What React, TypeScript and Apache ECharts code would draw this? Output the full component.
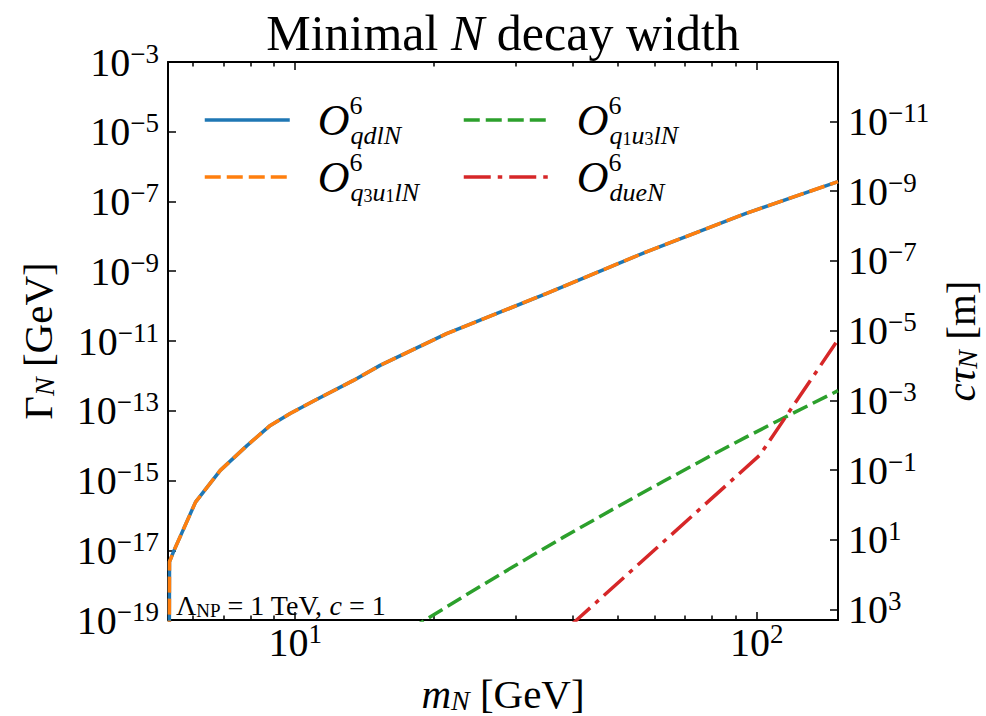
import { useEffect, useRef } from 'react';
import * as echarts from 'echarts';

// hbar*c in GeV*m, converts the width into the decay length c*tau
const HBARC = 1.97327e-16;

const X_MIN = 5.3;
const X_MAX = 150;
const Y_MIN = 1e-19;
const Y_MAX = 1e-3;

// O^6_{qdlN}
const massQdlN = [5.33, 5.34, 5.46, 6.08, 6.88, 7.86, 8.83, 9.75, 10.96, 13.37, 15.27, 21.28, 35.0, 57.5, 94.8, 150];
const widthQdlN = [1e-22, 4.68e-18, 9.77e-18, 2.4e-16, 1.95e-15, 1.0e-14, 3.8e-14, 8.32e-14, 1.91e-13, 7.41e-13, 2.0e-12, 1.62e-11, 2.29e-10, 3.55e-9, 4.57e-8, 3.72e-7];
// O^6_{q3u1lN}
const massQ3u1lN = [5.33, 5.34, 5.46, 6.08, 6.88, 7.86, 8.83, 9.75, 10.96, 13.37, 15.27, 21.28, 35.0, 57.5, 94.8, 150];
const widthQ3u1lN = [1e-22, 4.68e-18, 9.77e-18, 2.4e-16, 1.95e-15, 1.0e-14, 3.8e-14, 8.32e-14, 1.91e-13, 7.41e-13, 2.0e-12, 1.62e-11, 2.29e-10, 3.55e-9, 4.57e-8, 3.72e-7];
// O^6_{q1u3lN}
const massQ1u3lN = [17.74, 19.4, 23.92, 29.65, 38.05, 48.83, 62.66, 80.4, 94.8, 112.3, 130.5, 150];
const widthQ1u3lN = [5.37e-20, 1.12e-19, 6.17e-19, 3.35e-18, 2.34e-17, 1.51e-16, 9.33e-16, 5.56e-15, 1.75e-14, 5.53e-14, 1.5e-13, 3.76e-13];
// O^6_{dueN}
const massDueN = [39.4, 41.4, 55.85, 75.3, 101.6, 124.1, 150];
const widthDueN = [6.76e-20, 1.22e-19, 4.31e-18, 1.52e-16, 5.38e-15, 2.69e-13, 1.09e-11];

const xMajorTicks = [10, 100];
const xMinorTicks = [6, 7, 8, 9, 20, 30, 40, 50, 60, 70, 80, 90];
const yTicks = [1e-19, 1e-17, 1e-15, 1e-13, 1e-11, 1e-9, 1e-7, 1e-5, 1e-3];
const ctauTicks = [1e-11, 1e-9, 1e-7, 1e-5, 1e-3, 1e-1, 1e1, 1e3];

const FF = 'Liberation Serif';

const zip = (xs: number[], ys: number[]) => xs.map((x, i) => [x, ys[i]]);

const powLabel = (v: number) => {
  const e = Math.round(Math.log10(v));
  const s = e < 0 ? '\u2212' + String(-e) : String(e);
  return '{b|10}{s|' + s + '}';
};

const tickRich = {
  b: { fontFamily: FF, fontSize: 40, lineHeight: 44, verticalAlign: 'middle', color: '#000' },
  s: { fontFamily: FF, fontSize: 27, lineHeight: 21, verticalAlign: 'top', color: '#000' },
};

const nameRich = {
  n: { fontFamily: FF, fontSize: 41, lineHeight: 40, verticalAlign: 'middle', color: '#000' },
  i: { fontFamily: FF, fontStyle: 'italic', fontSize: 41, lineHeight: 40, verticalAlign: 'middle', color: '#000' },
  sub: { fontFamily: FF, fontStyle: 'italic', fontSize: 28, lineHeight: 22, verticalAlign: 'bottom', color: '#000' },
};

const legendRich = {
  sp: { width: 23, lineHeight: 10, fontSize: 10, verticalAlign: 'middle' },
  o: { fontFamily: FF, fontStyle: 'italic', fontSize: 44, lineHeight: 56, verticalAlign: 'middle', color: '#000' },
  sup: { fontFamily: FF, fontSize: 26, lineHeight: 39, verticalAlign: 'top', width: 1, color: '#000' },
  sub: { fontFamily: FF, fontStyle: 'italic', fontSize: 26, lineHeight: 21, verticalAlign: 'bottom', color: '#000' },
  ss: { fontFamily: FF, fontSize: 18, lineHeight: 14, verticalAlign: 'bottom', color: '#000' },
};

const legendLabels: Record<string, string> = {
  qdlN: '{sp| }{o|O}{sup|6}{sub|qdlN}',
  q3u1lN: '{sp| }{o|O}{sup|6}{sub|q}{ss|3}{sub|u}{ss|1}{sub|lN}',
  q1u3lN: '{sp| }{o|O}{sup|6}{sub|q}{ss|1}{sub|u}{ss|3}{sub|lN}',
  dueN: '{sp| }{o|O}{sup|6}{sub|dueN}',
};

const spine = { show: true, onZero: false, lineStyle: { color: '#000', width: 2 } };
const tickStyle = { color: '#000', width: 1.5 };

function buildOption() {
  const xBase = { type: 'log', min: X_MIN, max: X_MAX, splitLine: { show: false }, minorTick: { show: false }, minorSplitLine: { show: false } };
  const legendBase = {
    orient: 'vertical',
    top: 92,
    itemWidth: 85,
    itemHeight: 14,
    itemGap: 1,
    padding: 0,
    selectedMode: false,
    itemStyle: { opacity: 0 },
    lineStyle: { width: 3.5 },
    formatter: (name: string) => legendLabels[name],
    textStyle: { rich: legendRich },
  };
  return {
    animation: false,
    backgroundColor: '#fff',
    title: {
      text: '{n|Minimal }{i|N}{n| decay width}',
      left: 503,
      top: 5,
      textAlign: 'center',
      padding: 0,
      textStyle: {
        fontWeight: 'normal',
        rich: {
          n: { fontFamily: FF, fontWeight: 'normal', fontSize: 50, lineHeight: 56, verticalAlign: 'middle', color: '#000' },
          i: { fontFamily: FF, fontWeight: 'normal', fontStyle: 'italic', fontSize: 50, lineHeight: 56, verticalAlign: 'middle', color: '#000' },
        },
      },
    },
    grid: { left: 168, top: 62, width: 670, height: 558, containLabel: false, outerBoundsMode: 'none' },
    legend: [
      { ...legendBase, left: 203, data: ['qdlN', 'q3u1lN'] },
      { ...legendBase, left: 462, data: ['q1u3lN', 'dueN'] },
    ],
    xAxis: [
      {
        ...xBase,
        position: 'bottom',
        axisLine: spine,
        axisTick: { show: true, inside: true, length: 8, customValues: xMajorTicks, lineStyle: tickStyle },
        axisLabel: { show: true, customValues: xMajorTicks, margin: 0, formatter: powLabel, rich: tickRich },
        name: '{i|m}{sub|N}{n| [GeV]}',
        nameLocation: 'middle',
        nameGap: 54,
        nameTextStyle: { rich: nameRich },
      },
      {
        ...xBase,
        position: 'bottom',
        axisLine: { show: false },
        axisTick: { show: true, inside: true, length: 4.5, customValues: xMinorTicks, lineStyle: tickStyle },
        axisLabel: { show: false },
      },
      {
        ...xBase,
        position: 'top',
        axisLine: spine,
        axisTick: { show: true, inside: true, length: 8, customValues: xMajorTicks, lineStyle: tickStyle },
        axisLabel: { show: false },
      },
      {
        ...xBase,
        position: 'top',
        axisLine: { show: false },
        axisTick: { show: true, inside: true, length: 4.5, customValues: xMinorTicks, lineStyle: tickStyle },
        axisLabel: { show: false },
      },
    ],
    yAxis: [
      {
        type: 'log',
        min: Y_MIN,
        max: Y_MAX,
        position: 'left',
        axisLine: spine,
        axisTick: { show: true, inside: true, length: 8, customValues: yTicks, lineStyle: tickStyle },
        axisLabel: { show: true, customValues: yTicks, margin: 9, formatter: powLabel, rich: tickRich },
        splitLine: { show: false },
        minorTick: { show: false },
        name: '{n|\u0393}{sub|N}{n| [GeV]}',
        nameLocation: 'middle',
        nameRotate: 90,
        nameGap: 110,
        nameTextStyle: { rich: nameRich },
      },
      {
        type: 'log',
        min: HBARC / Y_MAX,
        max: HBARC / Y_MIN,
        inverse: true,
        position: 'right',
        axisLine: spine,
        axisTick: { show: true, inside: true, length: 8, customValues: ctauTicks, lineStyle: tickStyle },
        axisLabel: { show: true, customValues: ctauTicks, margin: 10, formatter: powLabel, rich: tickRich },
        splitLine: { show: false },
        minorTick: { show: false },
        name: '{i|c\u03c4}{sub|N}{n| [m]}',
        nameLocation: 'middle',
        nameRotate: 90,
        nameGap: 103,
        nameMoveOverlap: false,
        nameTextStyle: { rich: nameRich },
      },
    ],
    graphic: [
      {
        type: 'text',
        x: 176,
        y: 590,
        z: 10,
        style: {
          text: '{n|\u039b}{sub|NP}{n| = 1 TeV, }{i|c}{n| = 1}',
          align: 'left',
          verticalAlign: 'top',
          fill: '#000',
          rich: {
            n: { fontFamily: FF, fontSize: 28, lineHeight: 30, verticalAlign: 'middle', fill: '#000' },
            i: { fontFamily: FF, fontStyle: 'italic', fontSize: 28, lineHeight: 30, verticalAlign: 'middle', fill: '#000' },
            sub: { fontFamily: FF, fontSize: 19, lineHeight: 17, verticalAlign: 'bottom', fill: '#000' },
          },
        },
      },
    ],
    series: [
      {
        type: 'line', name: 'qdlN', xAxisIndex: 0, yAxisIndex: 0, data: zip(massQdlN, widthQdlN),
        symbol: 'none', clip: true, z: 2,
        itemStyle: { color: '#1f77b4' },
        lineStyle: { color: '#1f77b4', width: 3.5, type: 'solid' },
      },
      {
        type: 'line', name: 'q1u3lN', xAxisIndex: 0, yAxisIndex: 0, data: zip(massQ1u3lN, widthQ1u3lN),
        symbol: 'none', clip: true, z: 3,
        itemStyle: { color: '#2ca02c' },
        lineStyle: { color: '#2ca02c', width: 3.5, type: [16, 6] },
      },
      {
        type: 'line', name: 'q3u1lN', xAxisIndex: 0, yAxisIndex: 0, data: zip(massQ3u1lN, widthQ3u1lN),
        symbol: 'none', clip: true, z: 4,
        itemStyle: { color: '#ff7f0e' },
        lineStyle: { color: '#ff7f0e', width: 3.5, type: [16, 6] },
      },
      {
        type: 'line', name: 'dueN', xAxisIndex: 0, yAxisIndex: 0, data: zip(massDueN, widthDueN),
        symbol: 'none', clip: true, z: 3,
        itemStyle: { color: '#d62728' },
        lineStyle: { color: '#d62728', width: 3.5, type: [27, 7, 4.5, 7] },
      },
    ],
  };
}

export default function App() {
  const ref = useRef<HTMLDivElement>(null);
  useEffect(() => {
    if (!ref.current) return;
    const chart = echarts.init(ref.current, undefined, { renderer: 'svg' });
    chart.setOption(buildOption() as any);
    return () => chart.dispose();
  }, []);
  return (
    <div
      ref={ref}
      style={{ position: 'absolute', left: 0, top: 0, width: 986, height: 716, background: '#fff' }}
    />
  );
}
